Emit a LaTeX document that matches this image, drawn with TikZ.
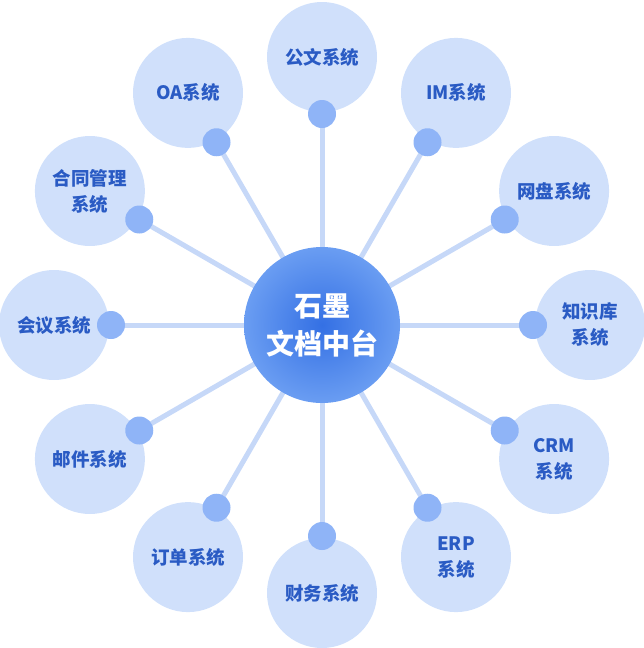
\documentclass[tikz,border=0pt]{standalone}
\usepackage{fontspec}
\setmainfont{Noto Sans CJK SC}
\usetikzlibrary{backgrounds}
\definecolor{outerfill}{HTML}{D0E0FB}
\definecolor{dotfill}{HTML}{8FB4F7}
\definecolor{linecol}{HTML}{C6D8F8}
\definecolor{labelcol}{HTML}{2A5BC4}
\definecolor{hubin}{HTML}{3470E4}
\definecolor{hubout}{HTML}{6A9DF2}
\tikzset{
  sysnode/.style={circle, fill=outerfill, minimum size=110pt, inner sep=0pt,
    text=labelcol, align=center, font=\fontsize{18.5}{26}\selectfont\bfseries},
  dotnode/.style={circle, fill=dotfill, minimum size=28pt, inner sep=0pt},
  hubnode/.style={circle, minimum size=156pt, inner sep=0pt, inner color=hubin, outer color=hubout,
    text=white, align=center, font=\fontsize{28}{38}\selectfont\bfseries},
  spoke/.style={draw=linecol, line width=5pt}
}
\begin{document}
\begin{tikzpicture}[x=1pt, y=-1pt]
\useasboundingbox (0,0) rectangle (643,648);
\node[hubnode] (c) at (322,325) {石墨\\文档中台};
\foreach \i/\txt in {0/公文系统, 1/IM系统, 2/网盘系统, 3/知识库\\系统, 4/CRM\\系统, 5/ERP\\系统,
  6/财务系统, 7/订单系统, 8/邮件系统, 9/会议系统, 10/合同管理\\系统, 11/OA系统} {
  \node[sysnode] (o\i) at ({322+268*sin(30*\i)}, {325-268*cos(30*\i)}) {\txt};
  \node[dotnode] (d\i) at ({322+211*sin(30*\i)}, {325-211*cos(30*\i)}) {};
}
\begin{scope}[on background layer]
\foreach \i in {0,...,11} {
  \draw[spoke] (c.center) -- (d\i.center);
}
\end{scope}
\end{tikzpicture}
\end{document}
